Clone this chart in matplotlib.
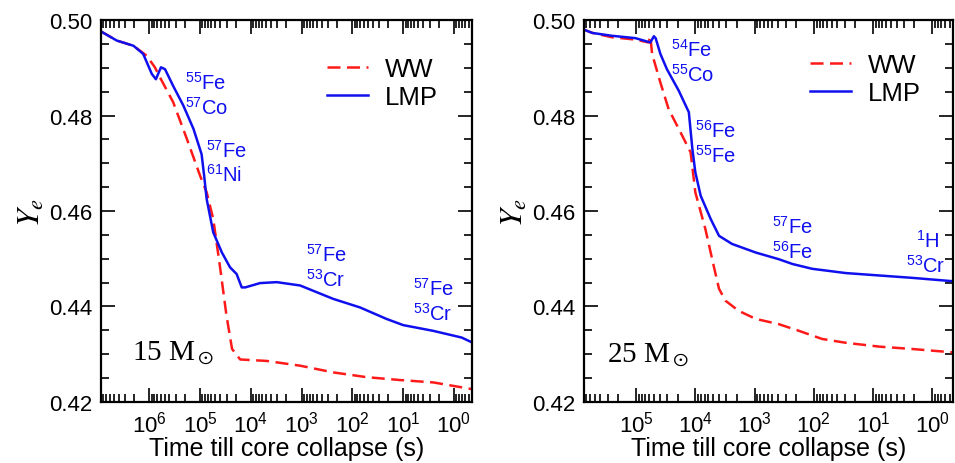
import numpy as np
import matplotlib
matplotlib.use('Agg')
import matplotlib.pyplot as plt
from matplotlib.ticker import (LogLocator, MultipleLocator, LogFormatterSciNotation, NullFormatter,
                               FixedLocator)

plt.rcParams['font.family'] = ['Liberation Sans', 'DejaVu Sans']
plt.rcParams['mathtext.fontset'] = 'custom'
plt.rcParams['mathtext.rm'] = 'Liberation Sans'
plt.rcParams['mathtext.it'] = 'Liberation Sans:italic'
plt.rcParams['mathtext.bf'] = 'Liberation Sans:bold'

# 15 solar masses: log10(time till collapse) and Ye
lmp15_logt = [6.95, 6.64, 6.31, 6.12, 5.95, 5.87, 5.77, 5.69, 5.53, 5.33, 5.13, 4.97, 4.92, 4.87,
              4.74, 4.57, 4.41, 4.28, 4.18, 4.11, 3.82, 3.49, 3.03, 2.38, 1.85, 1.33, 1.0, 0.41, -0.15, -0.35]
lmp15_ye = [0.4976, 0.4957, 0.4946, 0.4929, 0.4887, 0.4876, 0.4901, 0.4897, 0.4862, 0.4821, 0.4772, 0.4719,
            0.4674, 0.4625, 0.4555, 0.4513, 0.4482, 0.4468, 0.4440, 0.4440, 0.4449, 0.4451, 0.4444, 0.4416,
            0.4398, 0.4374, 0.4361, 0.4349, 0.4335, 0.4325]
ww15_logt = [6.95, 6.64, 6.31, 6.05, 5.89, 5.79, 5.53, 5.26, 5.0, 4.87, 4.74, 4.61, 4.48, 4.37, 4.21,
             3.69, 3.03, 2.38, 1.72, 1.07, 0.41, -0.35]
ww15_ye = [0.4976, 0.4957, 0.4946, 0.4925, 0.4901, 0.4880, 0.4828, 0.4751, 0.4674, 0.4639, 0.4583, 0.4485,
           0.4381, 0.4311, 0.4289, 0.4286, 0.4276, 0.4262, 0.4252, 0.4246, 0.4241, 0.4227]

# 25 solar masses
lmp25_logt = [5.905, 5.74, 5.41, 5.01, 4.76, 4.70, 4.67, 4.59, 4.48, 4.28, 4.11, 4.05, 4.0, 3.91, 3.74,
              3.60, 3.38, 2.98, 2.59, 2.36, 2.03, 1.46, 0.90, 0.34, -0.34]
lmp25_ye = [0.4981, 0.4973, 0.4967, 0.4962, 0.4953, 0.4966, 0.4962, 0.4929, 0.4897, 0.4852, 0.4807, 0.4730,
            0.4681, 0.4632, 0.4583, 0.4548, 0.4531, 0.4513, 0.4499, 0.4489, 0.4479, 0.4470, 0.4465, 0.4460,
            0.4453]
ww25_logt = [5.905, 5.74, 5.41, 5.01, 4.79, 4.76, 4.73, 4.59, 4.45, 4.28, 4.08, 4.0, 3.83, 3.69, 3.60,
             3.49, 3.27, 2.98, 2.59, 2.25, 1.86, 1.46, 0.90, 0.34, -0.34]
ww25_ye = [0.4981, 0.4973, 0.4964, 0.4959, 0.4953, 0.4966, 0.4929, 0.4869, 0.4813, 0.4772, 0.4723, 0.4639,
           0.4562, 0.4485, 0.4437, 0.4412, 0.4391, 0.4374, 0.4363, 0.4349, 0.4332, 0.4324, 0.4316, 0.4311,
           0.4304]

# labelled decades on each x axis
decades15 = [1e6, 1e5, 1e4, 1e3, 1e2, 1e1, 1e0]
decades25 = [1e5, 1e4, 1e3, 1e2, 1e1, 1e0]

# isotope labels: (text, time, Ye, halign)
labels15 = [(r'$^{55}$Fe', 1.98e5, 0.4856, 'left'), (r'$^{57}$Co', 1.98e5, 0.4803, 'left'),
            (r'$^{57}$Fe', 7.65e4, 0.4714, 'left'), (r'$^{61}$Ni', 7.65e4, 0.4663, 'left'),
            (r'$^{57}$Fe', 822, 0.4495, 'left'), (r'$^{53}$Cr', 822, 0.4443, 'left'),
            (r'$^{57}$Fe', 6.45, 0.4424, 'left'), (r'$^{53}$Cr', 6.45, 0.4372, 'left')]
labels25 = [(r'$^{54}$Fe', 2.62e4, 0.4925, 'left'), (r'$^{55}$Co', 2.62e4, 0.4873, 'left'),
            (r'$^{56}$Fe', 1.02e4, 0.4756, 'left'), (r'$^{55}$Fe', 1.02e4, 0.4703, 'left'),
            (r'$^{57}$Fe', 516, 0.4555, 'left'), (r'$^{56}$Fe', 516, 0.4503, 'left'),
            (r'$^{1}$H', 0.77, 0.4524, 'right'), (r'$^{53}$Cr', 0.61, 0.4472, 'right')]

fig = plt.figure(figsize=(9.55, 4.64), dpi=100)


def panel(rect, lmp_t, lmp_y, ww_t, ww_y, xmax, decades, labels, mass, mass_pos, leg_anchor):
    ax = fig.add_axes(rect)
    ax.plot(10 ** np.array(ww_t), ww_y, color='#ff1a1a', lw=1.8, ls=(0, (5.2, 2.6)), label='WW')
    ax.plot(10 ** np.array(lmp_t), lmp_y, color='#1010ee', lw=1.8, label='LMP')
    ax.set_xscale('log')
    ax.set_xlim(xmax, 10 ** -0.35)
    ax.set_ylim(0.42, 0.50)
    ax.xaxis.set_major_locator(FixedLocator(decades))
    ax.xaxis.set_minor_locator(LogLocator(base=10, subs=np.arange(2, 10), numticks=20))
    ax.xaxis.set_major_formatter(LogFormatterSciNotation())
    ax.xaxis.set_minor_formatter(NullFormatter())
    ax.yaxis.set_major_locator(MultipleLocator(0.02))
    ax.yaxis.set_minor_locator(MultipleLocator(0.005))
    ax.yaxis.set_major_formatter(plt.FormatStrFormatter('%.2f'))
    ax.tick_params(which='both', direction='in', top=True, right=True, width=1.2, labelsize=16)
    ax.tick_params(which='major', length=10, pad=6)
    ax.tick_params(which='minor', length=5.5)
    for s in ax.spines.values():
        s.set_linewidth(1.6)
    ax.set_xlabel('Time till core collapse (s)', fontsize=18, labelpad=0)
    ax.set_ylabel(r'$Y_e$', fontsize=23, math_fontfamily='stix', labelpad=2)
    for txt, x, y, ha in labels:
        ax.text(x, y, txt, color='#1010ee', fontsize=14.5, ha=ha, va='baseline')
    ax.text(mass_pos[0], mass_pos[1], mass + r' M$_\odot$', fontsize=21, family='Liberation Serif',
            math_fontfamily='stix', va='baseline')
    ax.legend(loc='upper right', bbox_to_anchor=leg_anchor, frameon=False, fontsize=18.5,
              handlelength=1.6, handletextpad=0.65, labelspacing=0.15, borderaxespad=0)
    return ax


panel([0.1058, 0.1315, 0.3882, 0.8232], lmp15_logt, lmp15_ye, ww15_logt, ww15_ye, 10 ** 6.95,
      decades15, labels15, '15', (2.2e6, 0.4290), (0.935, 0.93))
panel([0.6115, 0.1315, 0.3864, 0.8232], lmp25_logt, lmp25_ye, ww25_logt, ww25_ye, 10 ** 5.88,
      decades25, labels25, '25', (3.1e5, 0.4287), (0.94, 0.94))

fig.savefig('out.png', dpi=100)
